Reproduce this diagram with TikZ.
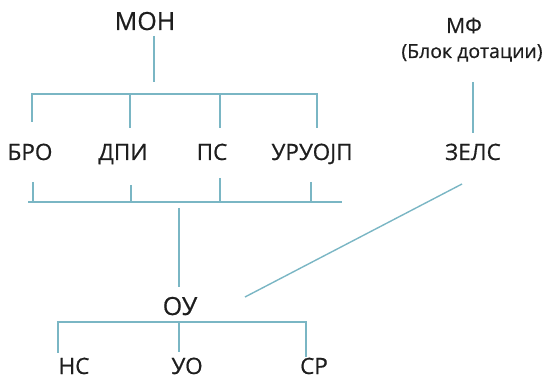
\documentclass[tikz,border=0pt]{standalone}
\usepackage{fontspec}
\setmainfont[FakeBold=0.6]{Open Sans}
\definecolor{linec}{RGB}{122,182,196}
\definecolor{txtc}{RGB}{30,30,30}
\tikzset{
  lbl/.style={anchor=base, inner sep=0pt, text=txtc, font=\fontsize{22.5}{27}\selectfont},
  big/.style={font=\fontsize{25}{30}\selectfont},
  conn/.style={draw=linec, line width=1.4pt}
}
\begin{document}
\begin{tikzpicture}[x=1pt,y=-1pt]
\useasboundingbox (0,0) rectangle (549,379);
% labels
\node[lbl, big] (mon) at (145,30) {МОН};
\node[lbl, font=\fontsize{21}{25}\selectfont] (mf) at (464,33) {МФ};
\node[lbl, font=\fontsize{19.5}{23}\selectfont] (blok) at (472,58) {(Блок дотации)};
\node[lbl] (bro) at (30,160) {БРО};
\node[lbl] (dpi) at (123,160) {ДПИ};
\node[lbl] (ps) at (212,160) {ПС};
\node[lbl] (uruojp) at (312,160) {УРУОЈП};
\node[lbl] (zels) at (473,160) {ЗЕЛС};
\node[lbl, big] (ou) at (180,315) {ОУ};
\node[lbl] (ns) at (74,374) {НС};
\node[lbl] (uo) at (187,374) {УО};
\node[lbl] (sr) at (314,374) {СР};
% coordinates
\coordinate (monB) at (154,36);
\coordinate (monJ) at (154,82);
\coordinate (tL) at (32,94);
\coordinate (tR) at (317,94);
\coordinate (t1) at (32,122);
\coordinate (t2a) at (130,94);
\coordinate (t2) at (130,128);
\coordinate (t3a) at (220,94);
\coordinate (t3) at (220,128);
\coordinate (t4) at (317,128);
\coordinate (b1) at (33,182);
\coordinate (b1a) at (33,202);
\coordinate (b2) at (131,185);
\coordinate (b2a) at (131,202);
\coordinate (b3) at (220,178);
\coordinate (b3a) at (220,202);
\coordinate (b4) at (311,182);
\coordinate (b4a) at (311,202);
\coordinate (bL) at (28,202);
\coordinate (bR) at (342,202);
\coordinate (ouT) at (179,208);
\coordinate (ouJ) at (179,287);
\coordinate (mfB) at (473,82);
\coordinate (mfJ) at (473,133);
\coordinate (zelsB) at (462,184);
\coordinate (ouR) at (245,297);
\coordinate (oL) at (58,322);
\coordinate (oM) at (179,322);
\coordinate (oR) at (306,322);
\coordinate (n1) at (58,353);
\coordinate (n2) at (179,352);
\coordinate (n3) at (306,357);
% connectors
\draw[conn] (monB) -- (monJ);
\draw[conn] (t1) -- (tL) -- (tR) -- (t4);
\draw[conn] (t2a) -- (t2);
\draw[conn] (t3a) -- (t3);
\draw[conn] (bL) -- (bR);
\draw[conn] (b1) -- (b1a);
\draw[conn] (b2) -- (b2a);
\draw[conn] (b3) -- (b3a);
\draw[conn] (b4) -- (b4a);
\draw[conn] (ouT) -- (ouJ);
\draw[conn] (mfB) -- (mfJ);
\draw[conn] (zelsB) -- (ouR);
\draw[conn] (n1) -- (oL) -- (oR) -- (n3);
\draw[conn] (oM) -- (n2);
\end{tikzpicture}
\end{document}
